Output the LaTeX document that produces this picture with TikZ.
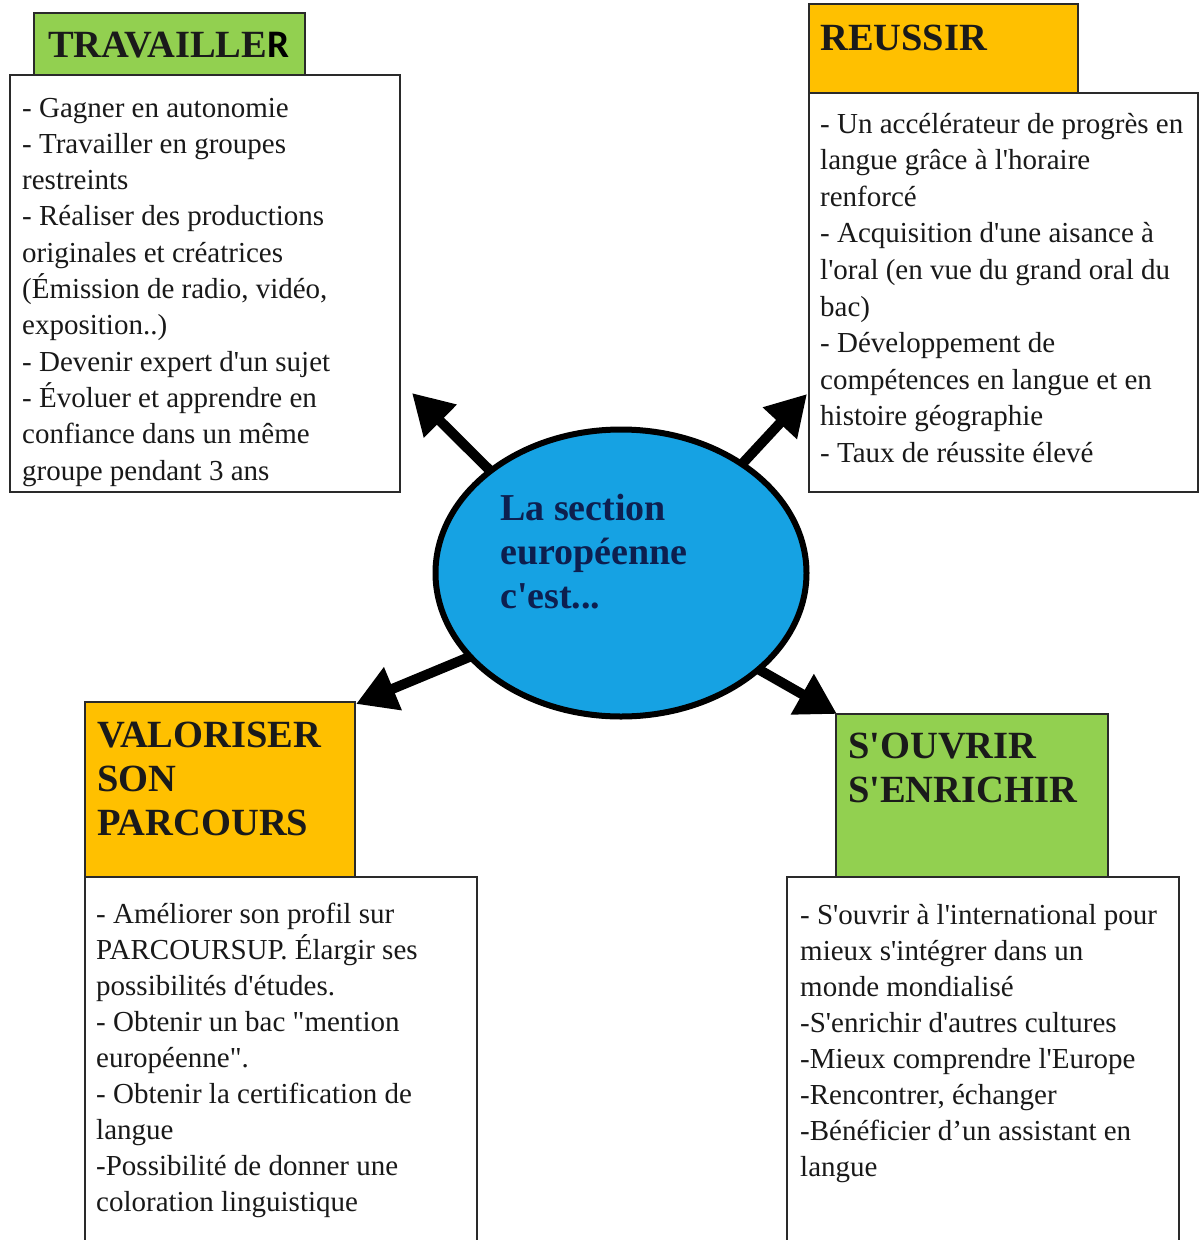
\documentclass[tikz,border=0pt]{standalone}
\usepackage{fontspec}
\newfontfamily\tnr{Liberation Serif}
\newfontfamily\carl{Carlito}
\usetikzlibrary{arrows.meta,shapes.geometric,backgrounds}
\definecolor{hgreen}{HTML}{92D050}
\definecolor{horange}{HTML}{FFC000}
\definecolor{eblue}{HTML}{16A2E3}
\definecolor{navy}{HTML}{0D1F4F}
\definecolor{hdtext}{HTML}{1A1A1A}
\definecolor{bord}{HTML}{2A2A2A}
\tikzset{
 hbox/.style={draw=bord, line width=1.6pt, anchor=north west, inner sep=0pt, outer sep=0pt},
 bbox/.style={draw=bord, line width=1.6pt, fill=white, anchor=north west, inner sep=0pt, outer sep=0pt},
 bodytxt/.style={anchor=base west, inner sep=0pt, text=black!90, font=\tnr\fontsize{29}{36.3}\selectfont},
 headtxt/.style={anchor=base west, inner sep=0pt, text=hdtext, font=\tnr\bfseries\fontsize{38.5}{44}\selectfont},
 arr/.style={line width=10pt, shorten <=-14pt, -{Triangle[length=40pt,width=44pt]}},
}
\begin{document}
\begin{tikzpicture}[x=1pt,y=-1pt]
\useasboundingbox (0,0) rectangle (1202,1240);
% TRAVAILLER
\node[hbox, fill=hgreen, minimum width=271pt, minimum height=62pt] (h1) at (34,13) {};
\node[bbox, minimum width=390pt, minimum height=417pt] (b1) at (10,75) {};
\node[headtxt] (h1t) at (48,57) {TRAVAILLE\textcolor{black}{\carl\bfseries\fontsize{39}{40}\selectfont R}};
\node[bodytxt] (b1t) at (22,117) {\parbox[t]{375pt}{\raggedright\baselineskip=36.3pt
- Gagner en autonomie\\
- Travailler en groupes\\
restreints\\
- Réaliser des productions\\
originales et créatrices\\
(Émission de radio, vidéo,\\
exposition..)\\
- Devenir expert d'un sujet\\
- Évoluer et apprendre en\\
confiance dans un même\\
groupe pendant 3 ans}};
% REUSSIR
\node[hbox, fill=horange, minimum width=269pt, minimum height=89pt] (h2) at (809,4) {};
\node[bbox, minimum width=389pt, minimum height=399pt] (b2) at (809,93) {};
\node[headtxt] (h2t) at (820,50) {REUSSIR};
\node[bodytxt] (b2t) at (820,133) {\parbox[t]{375pt}{\raggedright\baselineskip=36.6pt
- Un accélérateur de progrès en\\
langue grâce à l'horaire\\
renforcé\\
- Acquisition d'une aisance à\\
l'oral (en vue du grand oral du\\
bac)\\
- Développement de\\
compétences en langue et en\\
histoire géographie\\
- Taux de réussite élevé}};
% VALORISER
\node[hbox, fill=horange, minimum width=270pt, minimum height=175pt] (h3) at (85,702) {};
\node[bbox, minimum width=392pt, minimum height=380pt] (b3) at (85,877) {};
\node[headtxt] (h3t) at (97,747) {\parbox[t]{255pt}{\raggedright\baselineskip=44pt
VALORISER\\SON\\PARCOURS}};
\node[bodytxt] (b3t) at (96,923) {\parbox[t]{375pt}{\raggedright\baselineskip=36pt
- Améliorer son profil sur\\
PARCOURSUP. Élargir ses\\
possibilités d'études.\\
- Obtenir un bac "mention\\
européenne".\\
- Obtenir la certification de\\
langue\\
-Possibilité de donner une\\
coloration linguistique}};
% S'OUVRIR
\node[hbox, fill=hgreen, minimum width=272pt, minimum height=163pt] (h4) at (836,714) {};
\node[bbox, minimum width=392pt, minimum height=380pt] (b4) at (787,877) {};
\node[headtxt] (h4t) at (848,758) {\parbox[t]{255pt}{\raggedright\baselineskip=44pt
S'OUVRIR\\S'ENRICHIR}};
\node[bodytxt] (b4t) at (800,924) {\parbox[t]{375pt}{\raggedright\baselineskip=36pt
- S'ouvrir à l'international pour\\
mieux s'intégrer dans un\\
monde mondialisé\\
-S'enrichir d'autres cultures\\
-Mieux comprendre l'Europe\\
-Rencontrer, échanger\\
-Bénéficier d’un assistant en\\
langue}};
% centre
\node[ellipse, draw=black, line width=6pt, fill=eblue, minimum width=371pt, minimum height=287pt, inner sep=0pt, outer sep=0pt] (ell) at (621,573) {};
\node[anchor=base west, inner sep=0pt, text=navy, font=\tnr\bfseries\fontsize{38}{44}\selectfont] (et) at (500,520) {\parbox[t]{300pt}{\raggedright\baselineskip=44pt
La section\\européenne\\c'est...}};
% arrows
\coordinate (tUL) at (412,393);
\coordinate (tUR) at (807,394);
\coordinate (tLL) at (356,704);
\coordinate (tLR) at (837,714);
\begin{scope}[on background layer]
\draw[arr] (ell.142) -- (tUL);
\draw[arr] (ell.42) -- (tUR);
\draw[arr] (ell.209) -- (tLL);
\draw[arr] (ell.325) -- (tLR);
\end{scope}
\end{tikzpicture}
\end{document}
